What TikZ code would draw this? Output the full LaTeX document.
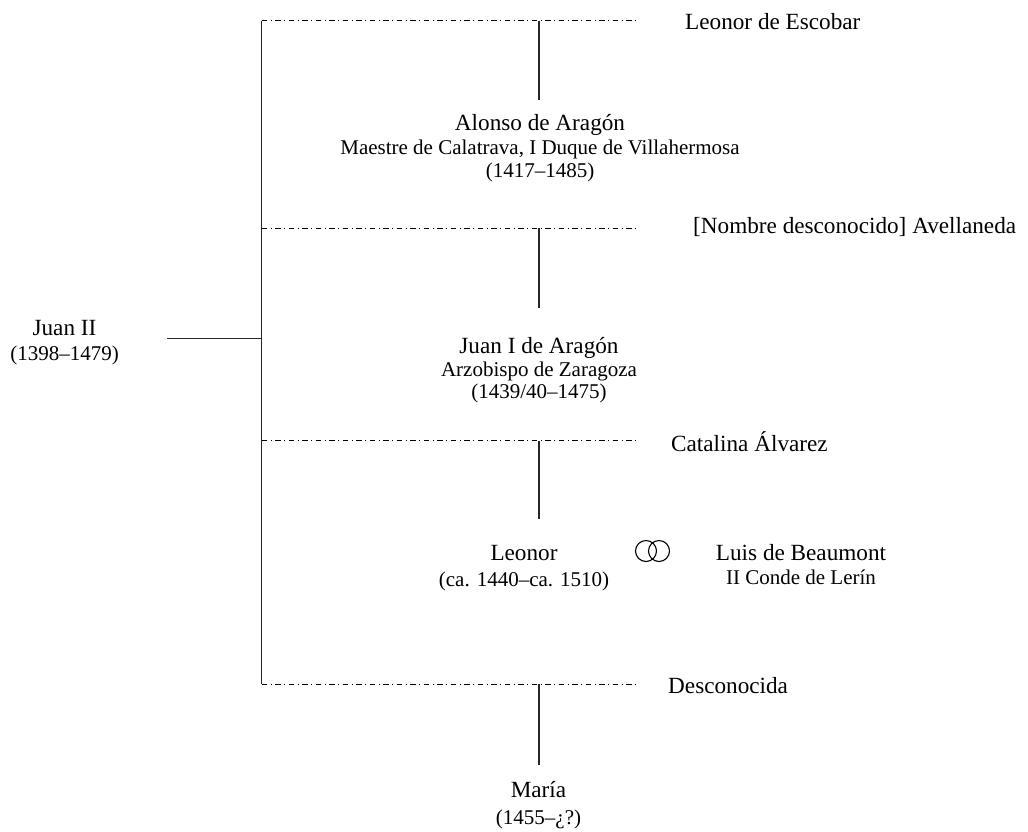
\documentclass[tikz,border=0pt]{standalone}
\usepackage{fontspec}
\setmainfont{Liberation Serif}
\newcommand{\namefont}{\fontsize{23.2}{28}\selectfont}
\newcommand{\notefont}{\fontsize{21}{25}\selectfont}
\begin{document}
\begin{tikzpicture}[x=1pt,y=-1pt,
  persona/.style={font=\namefont, anchor=base, inner sep=0pt},
  nota/.style={font=\notefont, anchor=base, inner sep=0pt},
  conyuge/.style={font=\namefont, anchor=west, inner sep=0pt},
  linea/.style={line width=1.1pt, draw=black!85},
  union/.style={line width=0.8pt, dash pattern=on 5.5pt off 3.5pt on 1pt off 3.5pt},
  anillo/.style={line width=1.1pt}]
\useasboundingbox (0,0) rectangle (1028,831);

% Juan II and the trunk of his issue
\node[persona] (juan) at (64.5,335.7) {Juan II};
\node[nota] (juand) at (64.5,360.7) {(1398–1479)};
\coordinate (jl) at (167,338.3);
\coordinate (t1) at (261.5,20.7);
\coordinate (t2) at (261.5,228.3);
\coordinate (t3) at (261.5,440.7);
\coordinate (t4) at (261.5,684);
\draw[linea] (t1) -- (t4);
\draw[linea] (jl) -- (jl -| t1);

% union lines
\coordinate (u1) at (636,20.7);
\coordinate (u2) at (636,228.3);
\coordinate (u3) at (636,440.7);
\coordinate (u4) at (636,684);
\draw[union] (t1) -- (u1);
\draw[union] (t2) -- (u2);
\draw[union] (t3) -- (u3);
\draw[union] (t4) -- (u4);

% partners
\node[conyuge] (escobar) at (685,21.5) {Leonor de Escobar};
\node[conyuge] (avellaneda) at (693,227) {[Nombre desconocido] Avellaneda};
\node[conyuge] (alvarez) at (671,441.5) {Catalina Álvarez};
\node[conyuge] (desc) at (668,686) {Desconocida};

% descent lines
\coordinate (d1) at (539,20.7);  \coordinate (c1) at (539,100);
\coordinate (d2) at (539,228.3); \coordinate (c2) at (539,308);
\coordinate (d3) at (539,440.7); \coordinate (c3) at (539,519);
\coordinate (d4) at (539,684);   \coordinate (c4) at (539,765);
\draw[linea] (d1) -- (c1);
\draw[linea] (d2) -- (c2);
\draw[linea] (d3) -- (c3);
\draw[linea] (d4) -- (c4);

% children
\node[persona] (alonso) at (540,130) {Alonso de Aragón};
\node[nota] (alonsot) at (540,154) {Maestre de Calatrava, I Duque de Villahermosa};
\node[nota] (alonsod) at (540,177) {(1417–1485)};

\node[persona] (juani) at (539,353) {Juan I de Aragón};
\node[nota] (juanit) at (539,376) {Arzobispo de Zaragoza};
\node[nota] (juanid) at (539,398) {(1439/40–1475)};

\node[persona] (leonor) at (524,560) {Leonor};
\node[nota] (leonord) at (524,586) {(ca. 1440–ca. 1510)};

\node[persona] (maria) at (538.5,797) {María};
\node[nota] (mariad) at (538.5,824) {(1455–¿?)};

% marriage of Leonor
\draw[anillo] (646,551) circle (10.5);
\draw[anillo] (659,551) circle (10.5);
\node[persona] (luis) at (801,560) {Luis de Beaumont};
\node[nota] (luist) at (801,584) {II Conde de Lerín};
\end{tikzpicture}
\end{document}
